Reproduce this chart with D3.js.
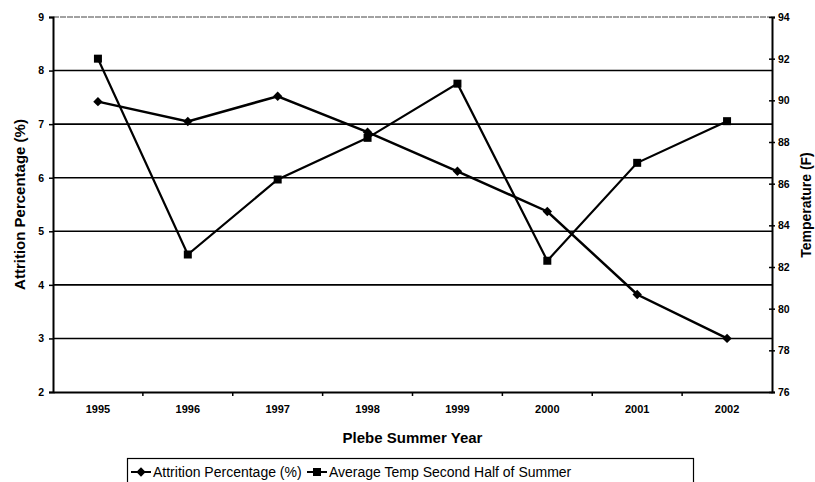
<!DOCTYPE html>
<html>
<head>
<meta charset="utf-8">
<script src="https://cdn.jsdelivr.net/npm/d3@7"></script>
<style>
  body { margin: 0; background: #fff; }
  text { font-family: "Liberation Sans", Arial, sans-serif; fill: #000; }
</style>
</head>
<body>
<div id="chart"></div>
<script>
// chart data
var years = ["1995", "1996", "1997", "1998", "1999", "2000", "2001", "2002"];
var attrition = [7.42, 7.05, 7.52, 6.85, 6.12, 5.37, 3.82, 3.0];
var avgTemp = [92.0, 82.6, 86.2, 88.2, 90.8, 82.3, 87.0, 89.0];
var leftTicks = [2, 3, 4, 5, 6, 7, 8, 9];
var rightTicks = [76, 78, 80, 82, 84, 86, 88, 90, 92, 94];
var seriesNames = ["Attrition Percentage (%)", "Average Temp Second Half of Summer"];

var svgWidth = 815;
var svgHeight = 482;
var plot = {left: 53, right: 772, top: 17, bottom: 392};

var svg = d3.select("#chart")
  .append("svg")
    .attr("width", svgWidth)
    .attr("height", svgHeight);

var x = d3.scaleBand()
  .domain(years)
  .range([plot.left, plot.right]);

var yLeft = d3.scaleLinear()
  .domain([2, 9])
  .range([plot.bottom, plot.top]);

var yRight = d3.scaleLinear()
  .domain([76, 94])
  .range([plot.bottom, plot.top]);

var cx = d => x(d) + x.bandwidth() / 2;

// gridlines at left axis values
svg.append("g")
  .selectAll("line")
  .data(leftTicks.filter(d => d > 2 && d < 9))
  .enter()
  .append("line")
    .attr("x1", plot.left)
    .attr("x2", plot.right)
    .attr("y1", d => yLeft(d))
    .attr("y2", d => yLeft(d))
    .attr("stroke", "#000")
    .attr("stroke-width", 1.6);

// top border (faint in the scan)
svg.append("line")
  .attr("x1", plot.left).attr("x2", plot.right)
  .attr("y1", plot.top).attr("y2", plot.top)
  .attr("stroke", "#444")
  .attr("stroke-width", 1)
  .attr("stroke-dasharray", "6,1");

var tickFont = "Liberation Sans, Arial, sans-serif";

// left axis
var leftAxis = d3.axisLeft(yLeft).tickValues(leftTicks).tickSize(4).tickFormat(d3.format("d"));
var gL = svg.append("g")
  .attr("transform", `translate(${plot.left},0)`)
  .call(leftAxis);
gL.select(".domain").attr("stroke-width", 2);
gL.selectAll(".tick line").attr("stroke-width", 1.5);
gL.selectAll(".tick text")
  .attr("x", -9)
  .style("font-size", "10.5px")
  .style("font-weight", "bold")
  .style("font-family", tickFont);

// right axis
var rightAxis = d3.axisRight(yRight).tickValues(rightTicks).tickSize(3).tickFormat(d3.format("d"));
var gR = svg.append("g")
  .attr("transform", `translate(${plot.right},0)`)
  .call(rightAxis);
gR.select(".domain").attr("stroke-width", 2);
gR.selectAll(".tick line").attr("x1", -3).attr("stroke-width", 1.5);
gR.selectAll(".tick text")
  .attr("x", 6)
  .style("font-size", "10.5px")
  .style("font-weight", "bold")
  .style("font-family", tickFont);

// bottom axis: labels centred, ticks between categories
var bottomAxis = d3.axisBottom(x).tickSize(0).tickPadding(13);
var gB = svg.append("g")
  .attr("transform", `translate(0,${plot.bottom})`)
  .call(bottomAxis);
gB.select(".domain").attr("stroke-width", 2);
gB.selectAll(".tick text")
  .style("font-size", "11px")
  .style("font-weight", "bold")
  .style("font-family", tickFont);
gB.selectAll(".sep")
  .data(years.slice(1))
  .enter()
  .append("line")
    .attr("x1", d => x(d)).attr("x2", d => x(d))
    .attr("y1", 0).attr("y2", 4)
    .attr("stroke", "#000")
    .attr("stroke-width", 1.5);

// series lines
var lineL = d3.line().x((d, i) => cx(years[i])).y(d => yLeft(d));
var lineR = d3.line().x((d, i) => cx(years[i])).y(d => yRight(d));

svg.append("path")
  .datum(attrition)
  .attr("d", lineL)
  .attr("fill", "none")
  .attr("stroke", "#000")
  .attr("stroke-width", 2.5);

svg.append("path")
  .datum(avgTemp)
  .attr("d", lineR)
  .attr("fill", "none")
  .attr("stroke", "#000")
  .attr("stroke-width", 2.2);

// markers
var diamond = d3.symbol().type(d3.symbolSquare).size(44);
var square = d3.symbol().type(d3.symbolSquare).size(64);

svg.selectAll(".dia")
  .data(attrition)
  .enter()
  .append("path")
    .attr("d", diamond)
    .attr("transform", (d, i) => `translate(${cx(years[i])},${yLeft(d)}) rotate(45)`)
    .attr("fill", "#000");

svg.selectAll(".sq")
  .data(avgTemp)
  .enter()
  .append("path")
    .attr("d", square)
    .attr("transform", (d, i) => `translate(${cx(years[i])},${yRight(d)})`)
    .attr("fill", "#000");

// axis titles
svg.append("text")
  .attr("transform", `translate(25,${(plot.top + plot.bottom) / 2}) rotate(-90)`)
  .style("text-anchor", "middle")
  .style("font-size", "15px")
  .style("font-weight", "bold")
  .text("Attrition Percentage (%)");

svg.append("text")
  .attr("transform", `translate(811,205) rotate(-90)`)
  .style("text-anchor", "middle")
  .style("font-size", "14px")
  .style("font-weight", "bold")
  .text("Temperature (F)");

svg.append("text")
  .attr("x", (plot.left + plot.right) / 2)
  .attr("y", 443)
  .style("text-anchor", "middle")
  .style("font-size", "15px")
  .style("font-weight", "bold")
  .text("Plebe Summer Year");

// legend
var legend = svg.append("g");
legend.append("rect")
  .attr("x", 127.5).attr("y", 458.5)
  .attr("width", 566).attr("height", 30)
  .attr("fill", "none")
  .attr("stroke", "#000")
  .attr("stroke-width", 1.2);

var legendX = [131, 307];
seriesNames.forEach(function(name, i) {
  var lx = legendX[i];
  legend.append("line")
    .attr("x1", lx).attr("x2", lx + 20)
    .attr("y1", 472).attr("y2", 472)
    .attr("stroke", "#000")
    .attr("stroke-width", 2);
  legend.append("path")
    .attr("d", i === 0 ? diamond : square)
    .attr("transform", `translate(${lx + 10},472)` + (i === 0 ? " rotate(45)" : ""))
    .attr("fill", "#000");
  legend.append("text")
    .attr("x", lx + 22)
    .attr("y", 477)
    .style("font-size", "14px")
    .text(name);
});
</script>
</body>
</html>
